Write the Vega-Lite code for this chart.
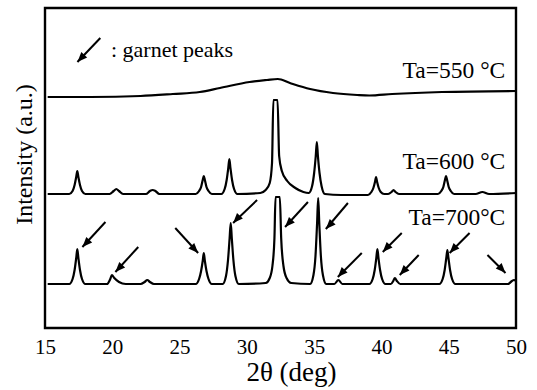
{
  "$schema": "https://vega.github.io/schema/vega-lite/v6.json",
  "width": 471,
  "height": 320,
  "autosize": "none",
  "padding": {"left": 45, "top": 8, "right": 21, "bottom": 62},
  "background": "white",
  "config": {
    "font": "Liberation Serif",
    "view": {"stroke": "black", "strokeWidth": 2.4},
    "axis": {"labelFont": "Liberation Serif", "titleFont": "Liberation Serif", "labelColor": "black", "titleColor": "black", "titleFontWeight": "normal", "grid": false},
    "text": {"font": "Liberation Serif"}
  },
  "datasets": {
    "xrd": [
      {"s": "550", "t": 15.2, "i": 231}, {"s": "550", "t": 18.4, "i": 231}, {"s": "550", "t": 22.1, "i": 232},
      {"s": "550", "t": 24.5, "i": 234}, {"s": "550", "t": 26.5, "i": 236}, {"s": "550", "t": 28.0, "i": 240},
      {"s": "550", "t": 30.2, "i": 246}, {"s": "550", "t": 31.5, "i": 248},
      {"s": "550", "t": 32.3, "i": 249}, {"s": "550", "t": 33.2, "i": 245}, {"s": "550", "t": 34.7, "i": 239},
      {"s": "550", "t": 36.4, "i": 235}, {"s": "550", "t": 38.2, "i": 233}, {"s": "550", "t": 39.1, "i": 232.5},
      {"s": "550", "t": 40.8, "i": 234}, {"s": "550", "t": 44.5, "i": 236}, {"s": "550", "t": 50.0, "i": 237},

      {"s": "600", "t": 15.2, "i": 134},
      {"s": "600", "t": 16.8, "i": 134}, {"s": "600", "t": 17.05, "i": 137}, {"s": "600", "t": 17.2, "i": 143}, {"s": "600", "t": 17.32, "i": 151}, {"s": "600", "t": 17.4, "i": 157}, {"s": "600", "t": 17.48, "i": 151}, {"s": "600", "t": 17.6, "i": 143}, {"s": "600", "t": 17.75, "i": 137}, {"s": "600", "t": 18.0, "i": 134},
      {"s": "600", "t": 19.8, "i": 134}, {"s": "600", "t": 20.1, "i": 137}, {"s": "600", "t": 20.3, "i": 139}, {"s": "600", "t": 20.5, "i": 137}, {"s": "600", "t": 20.8, "i": 134},
      {"s": "600", "t": 22.5, "i": 134}, {"s": "600", "t": 22.8, "i": 137}, {"s": "600", "t": 23.0, "i": 138}, {"s": "600", "t": 23.2, "i": 137}, {"s": "600", "t": 23.5, "i": 134},
      {"s": "600", "t": 26.2, "i": 134}, {"s": "600", "t": 26.45, "i": 137}, {"s": "600", "t": 26.6, "i": 141}, {"s": "600", "t": 26.72, "i": 148}, {"s": "600", "t": 26.8, "i": 152}, {"s": "600", "t": 26.88, "i": 148}, {"s": "600", "t": 27.0, "i": 141}, {"s": "600", "t": 27.15, "i": 137}, {"s": "600", "t": 27.4, "i": 134},
      {"s": "600", "t": 28.1, "i": 134}, {"s": "600", "t": 28.35, "i": 139}, {"s": "600", "t": 28.5, "i": 148}, {"s": "600", "t": 28.62, "i": 160}, {"s": "600", "t": 28.7, "i": 169}, {"s": "600", "t": 28.78, "i": 160}, {"s": "600", "t": 28.9, "i": 148}, {"s": "600", "t": 29.05, "i": 139}, {"s": "600", "t": 29.3, "i": 134},
      {"s": "600", "t": 31.0, "i": 135}, {"s": "600", "t": 31.4, "i": 138}, {"s": "600", "t": 31.7, "i": 145}, {"s": "600", "t": 31.87, "i": 165}, {"s": "600", "t": 31.97, "i": 228}, {"s": "600", "t": 32.28, "i": 228},
      {"s": "600", "t": 32.4, "i": 172}, {"s": "600", "t": 32.6, "i": 157}, {"s": "600", "t": 33.0, "i": 147}, {"s": "600", "t": 33.6, "i": 140}, {"s": "600", "t": 34.2, "i": 136},
      {"s": "600", "t": 34.6, "i": 135}, {"s": "600", "t": 34.85, "i": 142}, {"s": "600", "t": 35.0, "i": 155}, {"s": "600", "t": 35.12, "i": 172}, {"s": "600", "t": 35.2, "i": 186}, {"s": "600", "t": 35.28, "i": 172}, {"s": "600", "t": 35.4, "i": 155}, {"s": "600", "t": 35.55, "i": 142}, {"s": "600", "t": 35.8, "i": 134},
      {"s": "600", "t": 37.0, "i": 133},
      {"s": "600", "t": 39.0, "i": 133}, {"s": "600", "t": 39.25, "i": 136}, {"s": "600", "t": 39.4, "i": 140}, {"s": "600", "t": 39.52, "i": 146}, {"s": "600", "t": 39.6, "i": 151}, {"s": "600", "t": 39.68, "i": 146}, {"s": "600", "t": 39.8, "i": 140}, {"s": "600", "t": 39.95, "i": 136}, {"s": "600", "t": 40.2, "i": 134},
      {"s": "600", "t": 40.5, "i": 134}, {"s": "600", "t": 40.75, "i": 136}, {"s": "600", "t": 40.9, "i": 138}, {"s": "600", "t": 41.05, "i": 136}, {"s": "600", "t": 41.3, "i": 134},
      {"s": "600", "t": 44.2, "i": 134}, {"s": "600", "t": 44.45, "i": 137}, {"s": "600", "t": 44.6, "i": 141}, {"s": "600", "t": 44.72, "i": 148}, {"s": "600", "t": 44.8, "i": 152}, {"s": "600", "t": 44.88, "i": 148}, {"s": "600", "t": 45.0, "i": 141}, {"s": "600", "t": 45.15, "i": 137}, {"s": "600", "t": 45.4, "i": 134},
      {"s": "600", "t": 47.0, "i": 134}, {"s": "600", "t": 47.5, "i": 136}, {"s": "600", "t": 48.0, "i": 134}, {"s": "600", "t": 50.0, "i": 135},

      {"s": "700", "t": 15.2, "i": 44},
      {"s": "700", "t": 16.8, "i": 44}, {"s": "700", "t": 17.05, "i": 49}, {"s": "700", "t": 17.2, "i": 58}, {"s": "700", "t": 17.32, "i": 70}, {"s": "700", "t": 17.4, "i": 79}, {"s": "700", "t": 17.48, "i": 70}, {"s": "700", "t": 17.6, "i": 58}, {"s": "700", "t": 17.75, "i": 49}, {"s": "700", "t": 18.0, "i": 44},
      {"s": "700", "t": 19.6, "i": 44}, {"s": "700", "t": 19.85, "i": 49}, {"s": "700", "t": 19.97, "i": 53}, {"s": "700", "t": 20.15, "i": 50}, {"s": "700", "t": 20.5, "i": 46}, {"s": "700", "t": 21.0, "i": 44},
      {"s": "700", "t": 22.1, "i": 44}, {"s": "700", "t": 22.4, "i": 46}, {"s": "700", "t": 22.6, "i": 48}, {"s": "700", "t": 22.8, "i": 46}, {"s": "700", "t": 23.1, "i": 44},
      {"s": "700", "t": 26.2, "i": 44}, {"s": "700", "t": 26.45, "i": 49}, {"s": "700", "t": 26.6, "i": 57}, {"s": "700", "t": 26.72, "i": 67}, {"s": "700", "t": 26.8, "i": 75}, {"s": "700", "t": 26.88, "i": 67}, {"s": "700", "t": 27.0, "i": 57}, {"s": "700", "t": 27.15, "i": 49}, {"s": "700", "t": 27.4, "i": 44},
      {"s": "700", "t": 28.2, "i": 44}, {"s": "700", "t": 28.45, "i": 52}, {"s": "700", "t": 28.6, "i": 68}, {"s": "700", "t": 28.72, "i": 90}, {"s": "700", "t": 28.8, "i": 105}, {"s": "700", "t": 28.88, "i": 90}, {"s": "700", "t": 29.0, "i": 68}, {"s": "700", "t": 29.15, "i": 52}, {"s": "700", "t": 29.4, "i": 44},
      {"s": "700", "t": 31.4, "i": 45}, {"s": "700", "t": 31.7, "i": 50}, {"s": "700", "t": 31.9, "i": 62}, {"s": "700", "t": 32.05, "i": 90}, {"s": "700", "t": 32.13, "i": 131}, {"s": "700", "t": 32.45, "i": 131},
      {"s": "700", "t": 32.55, "i": 90}, {"s": "700", "t": 32.72, "i": 62}, {"s": "700", "t": 32.95, "i": 50}, {"s": "700", "t": 33.3, "i": 45},
      {"s": "700", "t": 34.7, "i": 44}, {"s": "700", "t": 34.95, "i": 53}, {"s": "700", "t": 35.1, "i": 72}, {"s": "700", "t": 35.22, "i": 105}, {"s": "700", "t": 35.3, "i": 130}, {"s": "700", "t": 35.38, "i": 105}, {"s": "700", "t": 35.5, "i": 72}, {"s": "700", "t": 35.65, "i": 53}, {"s": "700", "t": 35.9, "i": 44},
      {"s": "700", "t": 36.5, "i": 44}, {"s": "700", "t": 36.8, "i": 48}, {"s": "700", "t": 37.1, "i": 44},
      {"s": "700", "t": 39.1, "i": 44}, {"s": "700", "t": 39.35, "i": 49}, {"s": "700", "t": 39.5, "i": 58}, {"s": "700", "t": 39.62, "i": 70}, {"s": "700", "t": 39.7, "i": 79}, {"s": "700", "t": 39.78, "i": 70}, {"s": "700", "t": 39.9, "i": 58}, {"s": "700", "t": 40.05, "i": 49}, {"s": "700", "t": 40.3, "i": 44},
      {"s": "700", "t": 40.7, "i": 44}, {"s": "700", "t": 40.88, "i": 47}, {"s": "700", "t": 41.0, "i": 50}, {"s": "700", "t": 41.15, "i": 47}, {"s": "700", "t": 41.4, "i": 44},
      {"s": "700", "t": 44.3, "i": 44}, {"s": "700", "t": 44.55, "i": 49}, {"s": "700", "t": 44.7, "i": 58}, {"s": "700", "t": 44.82, "i": 70}, {"s": "700", "t": 44.9, "i": 78}, {"s": "700", "t": 44.98, "i": 70}, {"s": "700", "t": 45.1, "i": 58}, {"s": "700", "t": 45.25, "i": 49}, {"s": "700", "t": 45.5, "i": 44},
      {"s": "700", "t": 49.4, "i": 44}, {"s": "700", "t": 49.7, "i": 47}, {"s": "700", "t": 49.85, "i": 48}, {"s": "700", "t": 50.0, "i": 47}
    ],
    "arrows": [
      {"t": 19.49, "i": 106, "t2": 17.78, "i2": 81, "dir": "SW"},
      {"t": 21.93, "i": 81, "t2": 20.23, "i2": 56, "dir": "SW"},
      {"t": 24.68, "i": 100, "t2": 26.38, "i2": 75, "dir": "SE"},
      {"t": 30.76, "i": 128, "t2": 28.98, "i2": 105, "dir": "SW"},
      {"t": 34.54, "i": 126, "t2": 32.84, "i2": 101, "dir": "SW"},
      {"t": 37.51, "i": 125, "t2": 35.87, "i2": 99, "dir": "SW"},
      {"t": 38.54, "i": 75, "t2": 36.76, "i2": 51, "dir": "SW"},
      {"t": 41.51, "i": 95, "t2": 40.10, "i2": 76, "dir": "SW"},
      {"t": 42.77, "i": 73, "t2": 41.36, "i2": 53, "dir": "SW"},
      {"t": 46.55, "i": 95, "t2": 45.07, "i2": 75, "dir": "SW"},
      {"t": 47.88, "i": 73, "t2": 49.22, "i2": 55, "dir": "SE"},
      {"t": 19.11, "i": 290, "t2": 17.41, "i2": 266, "dir": "SW"}
    ],
    "ticks": [{"t": 20}, {"t": 25}, {"t": 30}, {"t": 35}, {"t": 40}, {"t": 45}],
    "labels": [
      {"label": "Ta=550 °C", "t": 49.2, "i": 250},
      {"label": "Ta=600 °C", "t": 49.2, "i": 159},
      {"label": "Ta=700°C", "t": 49.2, "i": 103}
    ],
    "legend": [{"label": ":  garnet peaks", "t": 19.9, "i": 271}]
  },
  "encoding": {
    "x": {"field": "t", "type": "quantitative", "scale": {"domain": [15, 50], "nice": false, "zero": false},
      "axis": {"title": "2θ (deg)", "values": [15, 20, 25, 30, 35, 40, 45, 50], "ticks": false, "domain": false,
        "labelFontSize": 21, "labelPadding": 8, "labelFlush": false, "titleFontSize": 27, "titlePadding": 2, "titleX": 246}},
    "y": {"field": "i", "type": "quantitative", "scale": {"domain": [0, 320], "nice": false, "zero": false},
      "axis": {"title": "Intensity (a.u.)", "labels": false, "ticks": false, "domain": false, "titleFontSize": 24, "titlePadding": 9, "titleY": 146}}
  },
  "layer": [
    {
      "data": {"name": "xrd"},
      "mark": {"type": "line", "color": "black", "strokeWidth": 2.2, "interpolate": "monotone"},
      "encoding": {"detail": {"field": "s", "type": "nominal"}}
    },
    {
      "data": {"name": "ticks"},
      "mark": {"type": "rule", "color": "black", "strokeWidth": 2.2},
      "encoding": {"y": {"datum": 0}, "y2": {"datum": 25}}
    },
    {
      "data": {"name": "arrows"},
      "mark": {"type": "rule", "color": "black", "strokeWidth": 2},
      "encoding": {"x2": {"field": "t2"}, "y2": {"field": "i2"}}
    },
    {
      "data": {"name": "arrows"},
      "mark": {"type": "point", "shape": "M0,0L-0.4,1L0.4,1Z", "filled": true, "color": "black", "size": 400, "opacity": 1},
      "encoding": {
        "x": {"field": "t2", "type": "quantitative"},
        "y": {"field": "i2", "type": "quantitative"},
        "angle": {"field": "dir", "type": "nominal", "scale": {"domain": ["SW", "SE"], "range": [223, 137]}, "legend": null}
      }
    },
    {
      "data": {"name": "labels"},
      "mark": {"type": "text", "align": "right", "baseline": "alphabetic", "fontSize": 23.5, "color": "black"},
      "encoding": {"text": {"field": "label"}}
    },
    {
      "data": {"name": "legend"},
      "mark": {"type": "text", "align": "left", "baseline": "alphabetic", "fontSize": 22, "color": "black"},
      "encoding": {"text": {"field": "label"}}
    }
  ]
}
